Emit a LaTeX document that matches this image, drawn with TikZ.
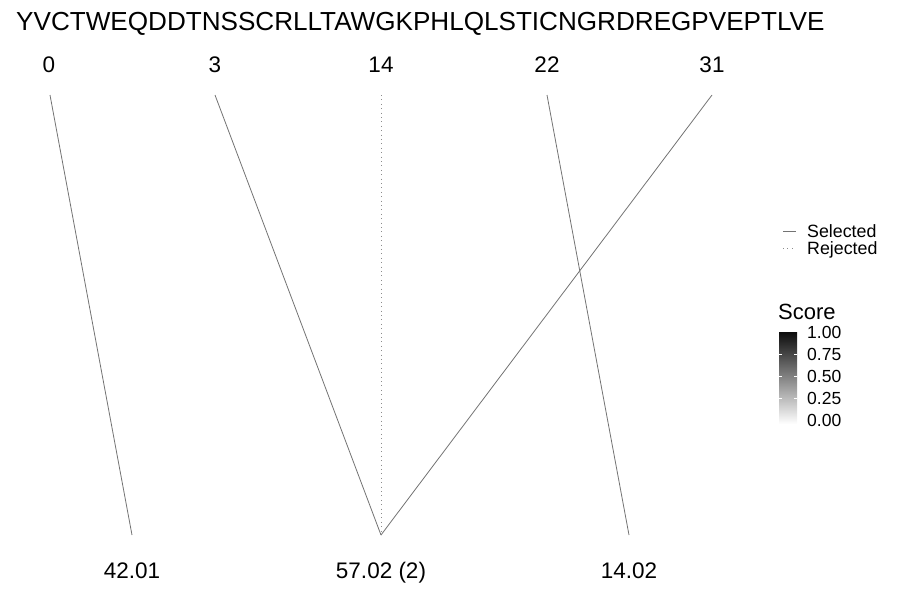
\documentclass[tikz,border=0pt]{standalone}
\usepackage{fontspec}
\setmainfont{Liberation Sans}
\begin{document}
\begin{tikzpicture}[x=1pt,y=-1pt,
  seg/.style={draw=black!55,line width=0.8pt},
  rej/.style={draw=black!45,line width=0.8pt,dash pattern=on 1pt off 3.4pt},
  posnum/.style={font=\fontsize{22.5}{22.5}\selectfont,inner sep=0pt,anchor=base},
  lab/.style={font=\fontsize{22.5}{22.5}\selectfont,inner sep=0pt,anchor=base},
  leg/.style={font=\fontsize{17.8}{17.8}\selectfont,inner sep=0pt,anchor=base west},
  ticklab/.style={font=\fontsize{17.5}{17.5}\selectfont,inner sep=0pt,anchor=base west}]
\useasboundingbox (0,0) rectangle (900,600);
\node[font=\fontsize{26.1}{26.1}\selectfont,inner sep=0pt,anchor=base west] (seq) at (16,30) {YVCTWEQDDTNSSCRLLTAWGKPHLQLSTICNGRDREGPVEPTLVE};
\node[posnum] (p0) at (49,72) {0};
\node[posnum] (p3) at (215,72) {3};
\node[posnum] (p14) at (381,72) {14};
\node[posnum] (p22) at (547,72) {22};
\node[posnum] (p31) at (712,72) {31};
\coordinate (t0) at (50,95);
\coordinate (t3) at (215,95);
\coordinate (t14) at (381,95);
\coordinate (t22) at (547,95);
\coordinate (t31) at (712,95);
\coordinate (b1) at (132,535);
\coordinate (b2) at (381,535);
\coordinate (b3) at (629,535);
\draw[seg] (t0) -- (b1);
\draw[seg] (t3) -- (b2);
\draw[rej] (t14) -- (b2);
\draw[seg] (t22) -- (b3);
\draw[seg] (t31) -- (b2);
\node[lab] (l1) at (132,578) {42.01};
\node[lab] (l2) at (381,578) {57.02 (2)};
\node[lab] (l3) at (629,578) {14.02};
% legend
\coordinate (s1) at (783,231); \coordinate (s2) at (796,231);
\draw[seg] (s1) -- (s2);
\node[leg] (sel) at (807,237.4) {Selected};
\coordinate (r1) at (783,248); \coordinate (r2) at (796,248);
\draw[rej] (r1) -- (r2);
\node[leg] (rejt) at (807,254.4) {Rejected};
\node[font=\fontsize{22}{22}\selectfont,inner sep=0pt,anchor=base west] (score) at (778,319) {Score};
\shade[top color=black!95,bottom color=white] (779,332) rectangle (797,424);
\foreach \yy in {354,376,398}{
  \draw[white,line width=0.5pt] (779,\yy) -- (782,\yy);
  \draw[white,line width=0.5pt] (794,\yy) -- (797,\yy);
}
\node[ticklab] (k1) at (807,338.3) {1.00};
\node[ticklab] (k2) at (807,360.3) {0.75};
\node[ticklab] (k3) at (807,382.3) {0.50};
\node[ticklab] (k4) at (807,404.3) {0.25};
\node[ticklab] (k5) at (807,426.3) {0.00};
\end{tikzpicture}
\end{document}
